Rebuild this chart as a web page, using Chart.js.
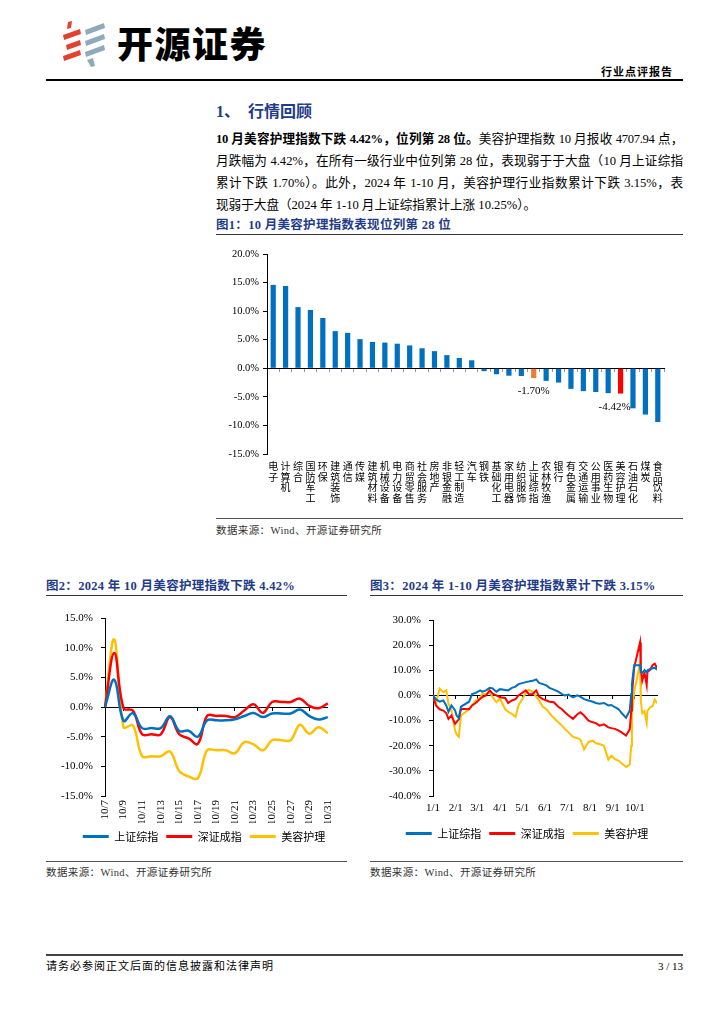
<!DOCTYPE html>
<html lang="zh-CN">
<head>
<meta charset="utf-8">
<title>行业点评报告</title>
<script src="https://cdn.jsdelivr.net/npm/chart.js@4.4.1/dist/chart.umd.min.js"></script>
<style>
  body { margin: 0; background: #fff; }
  #page { position: relative; width: 724px; height: 1024px; overflow: hidden;
          font-family: 'Liberation Serif', 'Noto Sans CJK SC', serif; color: #000; }
  .abs { position: absolute; white-space: nowrap; }
  .rule { position: absolute; background: #000; }
  .para { position: absolute; left: 216px; width: 467px; font-size: 12.6px; line-height: 18px;
          white-space: nowrap; text-align: justify; text-align-last: justify; }
  .figtitle { position: absolute; font-size: 12.5px; letter-spacing: 0.3px; font-weight: bold; color: #1f3c88;
              line-height: 16px; white-space: nowrap; }
  .src { position: absolute; font-size: 10.5px; letter-spacing: 0.4px; color: #333; line-height: 14px; white-space: nowrap; }
  canvas { position: absolute; }
</style>
</head>
<body>
<div id="page">
  <!-- 页眉 -->
  <svg class="abs" style="left:60px;top:20px" width="50" height="48" viewBox="0 0 50 48">
    <g fill="#e2412d">
      <polygon points="8,2 12,1 11,8 7,9"/>
      <polygon points="3,15 20,9 21,14 4,20"/>
      <polygon points="6,25 20,20 21,25 7,30"/>
      <polygon points="3,36 20,30 21,35 4,41"/>
    </g>
    <g fill="#8eaabb">
      <polygon points="25,10 44,3 45,8 26,15"/>
      <polygon points="25,21 44,14 45,19 26,26"/>
      <polygon points="25,32 44,25 45,30 26,37"/>
      <polygon points="27,40 33,38 35,46 31,47"/>
    </g>
  </svg>
  <div class="abs" style="left:117px;top:19px;font:900 36px 'Noto Sans CJK SC';letter-spacing:1.5px;line-height:46px;">开源证券</div>
  <div class="abs" style="right:51px;top:64px;font:700 11px 'Noto Sans CJK SC';letter-spacing:1px;line-height:15px;">行业点评报告</div>
  <div class="rule" style="left:46px;top:79px;width:637px;height:1.5px;"></div>

  <!-- 正文 -->
  <div class="abs" style="left:216px;top:101px;font-size:16px;font-weight:bold;color:#1f3c88;line-height:22px;">1、&nbsp;&nbsp;行情回顾</div>
  <div class="para" style="top:130px;letter-spacing:-0.3px;"><b>10 月美容护理指数下跌 4.42%，位列第 28 位。</b>美容护理指数 10 月报收 4707.94 点，</div>
  <div class="para" style="top:152px;">月跌幅为 4.42%，在所有一级行业中位列第 28 位，表现弱于于大盘（10 月上证综指</div>
  <div class="para" style="top:174px;">累计下跌 1.70%）。此外，2024 年 1-10 月，美容护理行业指数累计下跌 3.15%，表</div>
  <div class="para" style="top:196px;text-align:left;text-align-last:left;">现弱于大盘（2024 年 1-10 月上证综指累计上涨 10.25%）。</div>

  <!-- 图1 -->
  <div class="figtitle" style="left:216px;top:217px;">图1：10 月美容护理指数表现位列第 28 位</div>
  <div class="rule" style="left:216px;top:234px;width:467px;height:1px;background:#333;"></div>
  <canvas id="chart1" width="470" height="275" style="left:210px;top:240px;"></canvas>
  <div class="rule" style="left:216px;top:518px;width:467px;height:1px;background:#555;"></div>
  <div class="src" style="left:216px;top:524px;">数据来源：Wind、开源证券研究所</div>

  <!-- 图2 -->
  <div class="figtitle" style="left:46px;top:578px;">图2：2024 年 10 月美容护理指数下跌 4.42%</div>
  <div class="rule" style="left:46px;top:595px;width:301px;height:1px;background:#333;"></div>
  <canvas id="chart2" width="305" height="252" style="left:40px;top:600px;"></canvas>
  <div class="rule" style="left:46px;top:861px;width:301px;height:1px;background:#555;"></div>
  <div class="src" style="left:46px;top:866px;">数据来源：Wind、开源证券研究所</div>

  <!-- 图3 -->
  <div class="figtitle" style="left:370px;top:578px;">图3：2024 年 1-10 月美容护理指数累计下跌 3.15%</div>
  <div class="rule" style="left:370px;top:595px;width:313px;height:1px;background:#333;"></div>
  <canvas id="chart3" width="318" height="249" style="left:365px;top:600px;"></canvas>
  <div class="rule" style="left:370px;top:861px;width:313px;height:1px;background:#555;"></div>
  <div class="src" style="left:370px;top:866px;">数据来源：Wind、开源证券研究所</div>

  <!-- 页脚 -->
  <div class="rule" style="left:46px;top:954px;width:637px;height:2px;background:#444;"></div>
  <div class="src" style="left:46px;top:959px;color:#000;font-size:11px;letter-spacing:1px;">请务必参阅正文后面的信息披露和法律声明</div>
  <div class="src" style="right:41px;top:959px;color:#000;font-size:11px;letter-spacing:0;">3 / 13</div>
</div>

<script>
// 图1：10月申万一级行业涨跌幅（%）
const industries = ['电子', '计算机', '综合', '国防军工', '环保', '建筑装饰', '通信', '传媒',
  '建筑材料', '机械设备', '电力设备', '商贸零售', '社会服务', '房地产', '非银金融', '轻工制造',
  '汽车', '钢铁', '基础化工', '家用电器', '纺织服饰', '上证综指', '农林牧渔', '银行',
  '有色金属', '交通运输', '公用事业', '医药生物', '美容护理', '石油石化', '煤炭', '食品饮料'];
const industryChange = [14.6, 14.4, 10.7, 10.2, 8.8, 6.5, 6.2, 5.1,
  4.6, 4.5, 4.3, 4.0, 3.5, 3.0, 2.3, 1.8,
  1.4, -0.5, -1.05, -1.3, -1.35, -1.70, -2.2, -2.5,
  -3.6, -4.0, -4.15, -4.35, -4.42, -7.0, -8.1, -9.4];
const notedIndustries = ['上证综指', '美容护理'];

// 图2：10月累计涨跌幅（%）
const octDays = ['10/7', '10/8', '10/9', '10/10', '10/11', '10/12', '10/13', '10/14', '10/15',
  '10/16', '10/17', '10/18', '10/19', '10/20', '10/21', '10/22', '10/23', '10/24', '10/25',
  '10/26', '10/27', '10/28', '10/29', '10/30', '10/31'];
const octSse = [0, 4.59, -2.33, -1.04, -3.56, -3.56, -3.56, -1.57, -4.05, -4.00, -5.01, -2.25, -2.25,
  -2.25, -2.05, -1.52, -1.01, -1.69, -1.10, -1.10, -1.10, -0.43, -1.50, -2.11, -1.70];
const octSzse = [0, 9.1, -0.2, -0.6, -4.6, -4.6, -4.6, -1.7, -4.6, -5.3, -6.2, -1.5, -1.5,
  -1.5, -1.7, -0.6, 0.45, -1.0, 0.85, 0.85, 0.85, 1.4, 0.2, -0.2, 0.6];
const octBeauty = [0, 11.4, -3.4, -3.1, -8.3, -8.3, -8.3, -7.5, -10.8, -11.7, -12.0, -7.3, -7.3,
  -7.3, -7.8, -5.9, -6.3, -7.3, -5.6, -5.6, -5.6, -3.0, -4.5, -3.4, -4.42];

// 图3：1-10月累计涨跌幅（%）
const ytdDates = ['1/1', '1/2', '1/5', '1/10', '1/15', '1/19', '1/22', '1/26', '1/31',
  '2/2', '2/5', '2/8', '2/19', '2/23', '2/28', '3/5', '3/8', '3/13', '3/18', '3/22', '3/27',
  '4/1', '4/8', '4/12', '4/17', '4/22', '4/26', '5/6', '5/10', '5/15', '5/20', '5/24', '5/29',
  '6/3', '6/7', '6/13', '6/19', '6/24', '6/28', '7/3', '7/9', '7/15', '7/19', '7/24', '7/30',
  '8/5', '8/9', '8/14', '8/20', '8/26', '8/30', '9/4', '9/9', '9/13', '9/19', '9/24', '9/26',
  '9/27', '9/30', '10/8', '10/9', '10/11', '10/14', '10/17', '10/18', '10/22', '10/25', '10/28', '10/31'];
const ytdSse = [0, -0.4, -1.5, -2.5, -2.0, -4.0, -6.5, -4.0, -6.0,
  -8.0, -9.0, -4.5, -2.5, 0.5, 1.0, 2.0, 1.5, 2.0, 3.0, 2.8, 1.5,
  2.5, 2.2, 2.0, 3.0, 3.5, 4.5, 5.3, 5.5, 5.8, 6.4, 5.0, 4.5,
  4.0, 3.0, 2.3, 1.5, 0.5, 0.0, 0.3, -0.8, 0.0, -0.5, -1.5, -2.0,
  -2.5, -3.0, -3.3, -3.0, -4.0, -3.8, -4.7, -5.5, -7.0, -8.9, -6.0, 0.5,
  4.5, 12.0, 12.0, 9.3, 9.0, 10.0, 9.2, 10.0, 10.5, 10.8, 11.0, 10.25];
const ytdSzse = [0, -1.0, -4.0, -5.5, -6.0, -7.0, -9.3, -8.0, -11.3,
  -10.5, -9.5, -5.3, -5.5, -4.0, -3.0, -1.3, -0.7, 0.0, 2.0, 0.7, 0.0,
  -0.7, -1.0, -3.0, -2.0, -1.5, 0.0, 2.0, 0.5, 0.5, 2.0, -0.5, -1.5,
  -2.0, -2.5, -2.7, -4.5, -5.5, -6.7, -8.0, -9.3, -7.5, -6.7, -8.0, -10.0,
  -10.7, -11.0, -12.0, -11.5, -12.7, -13.0, -13.3, -14.0, -14.7, -16.0, -13.5, -6.0,
  0.0, 11.0, 21.1, 10.8, 5.9, 9.1, 4.1, 9.3, 10.3, 12.0, 12.6, 11.0];
const ytdBeauty = [0, -1.0, -3.3, 2.7, 1.3, 2.0, -3.3, -6.0, -14.0,
  -15.5, -16.5, -8.0, -5.5, -4.0, -2.0, -1.0, 0.7, 0.5, 1.3, -0.7, -2.7,
  -1.3, -5.5, -6.5, -7.3, -8.5, -4.0, 1.0, 2.3, 1.5, -0.5, -2.0, -4.5,
  -5.5, -7.0, -9.0, -10.7, -12.0, -13.3, -14.7, -16.5, -17.0, -17.5, -21.5, -18.5,
  -18.0, -19.0, -19.3, -20.0, -25.5, -24.0, -25.3, -26.0, -27.0, -28.5, -27.5, -20.0,
  -8.0, 1.3, 12.9, -2.1, -7.1, -6.3, -10.8, -6.1, -4.6, -4.3, -1.7, -3.15];
const monthTicks = ['1/1', '2/1', '3/1', '4/1', '5/1', '6/1', '7/1', '8/1', '9/1', '10/1'];

const BLUE = '#0070C0', RED = '#FF0000', GOLD = '#FFC000', ORANGE = '#ED7D31';

// 2024 年每月起始天数，用来把 'M/D' 换成横轴上的天数
const monthOffset = [0, 31, 60, 91, 121, 152, 182, 213, 244, 274, 305, 335];
function dayOfYear(s) {
  const [m, d] = s.split('/').map(Number);
  return monthOffset[m - 1] + d - 1;
}

Chart.defaults.font.family = "'Liberation Serif', 'Noto Sans CJK SC', serif";
Chart.defaults.color = '#000';

const pct = v => v.toFixed(1) + '%';

const legendOpts = {
  position: 'bottom',
  labels: {
    boxWidth: 26, boxHeight: 3, padding: 8, color: '#000',
    font: { family: "'Noto Sans CJK SC'", size: 11 },
    generateLabels: chart => Chart.defaults.plugins.legend.labels.generateLabels(chart)
      .map(l => Object.assign(l, { lineWidth: 0 }))
  }
};

// 图例整体右移一点，和原图的位置对齐
const legendShift = {
  id: 'legendShift',
  afterLayout(chart, args, opts) {
    if (chart.legend) {
      chart.legend.left += opts.dx;
      chart.legend.right += opts.dx;
    }
  }
};

// 在上证综指、美容护理柱子下方标数值
const barNotes = {
  id: 'barNotes',
  afterDatasetsDraw(chart) {
    const ctx = chart.ctx;
    const meta = chart.getDatasetMeta(0);
    ctx.save();
    ctx.font = "11px 'Liberation Serif'";
    ctx.fillStyle = '#000';
    ctx.textAlign = 'center';
    ctx.textBaseline = 'middle';
    notedIndustries.forEach(name => {
      const i = industries.indexOf(name);
      const bar = meta.data[i];
      const dx = name === '美容护理' ? -6 : 0;
      ctx.fillText(industryChange[i].toFixed(2) + '%', bar.x + dx, bar.y + 13.5);
    });
    ctx.restore();
  }
};

new Chart(document.getElementById('chart1'), {
  type: 'bar',
  data: {
    labels: industries.map(s => s.split('')),
    datasets: [{
      data: industryChange,
      backgroundColor: industries.map(n => n === '美容护理' ? RED : (n === '上证综指' ? ORANGE : BLUE)),
      barPercentage: 0.42,
      categoryPercentage: 1
    }]
  },
  options: {
    responsive: false,
    animation: false,
    layout: { padding: { top: 14, right: 16, left: 0, bottom: 0 } },
    plugins: { legend: { display: false }, tooltip: { enabled: false } },
    scales: {
      x: {
        ticks: { font: { family: "'Noto Sans CJK SC'", size: 10, lineHeight: 1.05 }, padding: 7,
                 maxRotation: 0, autoSkip: false, color: '#000' },
        grid: { display: false, drawTicks: false },
        border: { display: false },
        afterFit: s => { s.height = 61; }
      },
      xz: {
        type: 'category', position: { y: 0 }, offset: true,
        ticks: { display: false },
        grid: { drawOnChartArea: false, offset: true, tickLength: 3, color: '#999' },
        border: { color: '#000' },
        afterFit: s => { s.height = 0; }
      },
      y: {
        min: -15, max: 20,
        ticks: { stepSize: 5, callback: pct, font: { size: 10.5 }, padding: 4, color: '#000' },
        grid: { drawOnChartArea: false, tickLength: 4, color: '#000' },
        border: { color: '#000' },
        afterFit: s => { s.width = 57; }
      }
    }
  },
  plugins: [barNotes]
});

new Chart(document.getElementById('chart2'), {
  type: 'line',
  data: {
    labels: octDays,
    datasets: [
      { label: '上证综指', data: octSse, borderColor: BLUE, backgroundColor: BLUE },
      { label: '深证成指', data: octSzse, borderColor: RED, backgroundColor: RED },
      { label: '美容护理', data: octBeauty, borderColor: GOLD, backgroundColor: GOLD }
    ]
  },
  options: {
    responsive: false,
    animation: false,
    layout: { padding: { top: 18, right: 9, left: 0, bottom: 0 } },
    elements: { line: { borderWidth: 2.5, tension: 0.4 }, point: { radius: 0 } },
    plugins: { legend: legendOpts, tooltip: { enabled: false }, legendShift: { dx: 16 } },
    scales: {
      x: {
        offset: false,
        ticks: {
          autoSkip: false, minRotation: 90, maxRotation: 90, padding: 4, font: { size: 11 }, color: '#000',
          callback: function (v, i) { return i % 2 === 0 ? this.getLabelForValue(v) : ''; }
        },
        grid: { display: false, drawTicks: false },
        border: { display: false },
        afterFit: s => { s.height = 27; }
      },
      xz: {
        type: 'category', position: { y: 0 }, offset: false,
        ticks: { display: false },
        grid: { drawOnChartArea: false, tickLength: 3, color: c => (c.index % 4 === 2 ? '#000' : 'rgba(0,0,0,0)') },
        border: { color: '#000' },
        afterFit: s => { s.height = 0; }
      },
      y: {
        min: -15, max: 15,
        ticks: { stepSize: 5, callback: pct, font: { size: 11 }, padding: 8, color: '#000' },
        grid: { drawOnChartArea: false, tickLength: 4, color: '#000' },
        border: { color: '#000' },
        afterFit: s => { s.width = 65; }
      }
    }
  },
  plugins: [legendShift]
});

const ytdX = ytdDates.map(dayOfYear);
const monthX = monthTicks.map(dayOfYear);
const lastDay = ytdX[ytdX.length - 1];

new Chart(document.getElementById('chart3'), {
  type: 'line',
  data: {
    datasets: [
      { label: '上证综指', data: ytdSse.map((v, i) => ({ x: ytdX[i], y: v })), borderColor: BLUE, backgroundColor: BLUE },
      { label: '深证成指', data: ytdSzse.map((v, i) => ({ x: ytdX[i], y: v })), borderColor: RED, backgroundColor: RED },
      { label: '美容护理', data: ytdBeauty.map((v, i) => ({ x: ytdX[i], y: v })), borderColor: GOLD, backgroundColor: GOLD }
    ]
  },
  options: {
    responsive: false,
    animation: false,
    layout: { padding: { top: 20, right: 26, left: 0, bottom: 0 } },
    elements: { line: { borderWidth: 2, tension: 0 }, point: { radius: 0 } },
    plugins: { legend: legendOpts, tooltip: { enabled: false }, legendShift: { dx: 16 } },
    scales: {
      x: {
        type: 'linear', min: 0, max: lastDay,
        afterBuildTicks: s => { s.ticks = monthX.map(v => ({ value: v })); },
        ticks: { autoSkip: false, maxRotation: 0, padding: 6, font: { size: 11 }, color: '#000',
                 callback: (v, i) => monthTicks[i] },
        grid: { display: false, drawTicks: false },
        border: { display: false },
        afterFit: s => { s.height = 24; }
      },
      xz: {
        type: 'linear', min: 0, max: lastDay, position: { y: 0 },
        afterBuildTicks: s => { s.ticks = monthX.map(v => ({ value: v })); },
        ticks: { display: false },
        grid: { drawOnChartArea: false, tickLength: 3, color: '#000' },
        border: { color: '#000' },
        afterFit: s => { s.height = 0; }
      },
      y: {
        min: -40, max: 30,
        ticks: { stepSize: 10, callback: pct, font: { size: 11 }, padding: 8, color: '#000' },
        grid: { drawOnChartArea: false, tickLength: 4, color: '#000' },
        border: { color: '#000' },
        afterFit: s => { s.width = 68; }
      }
    }
  },
  plugins: [legendShift]
});
</script>
</body>
</html>
